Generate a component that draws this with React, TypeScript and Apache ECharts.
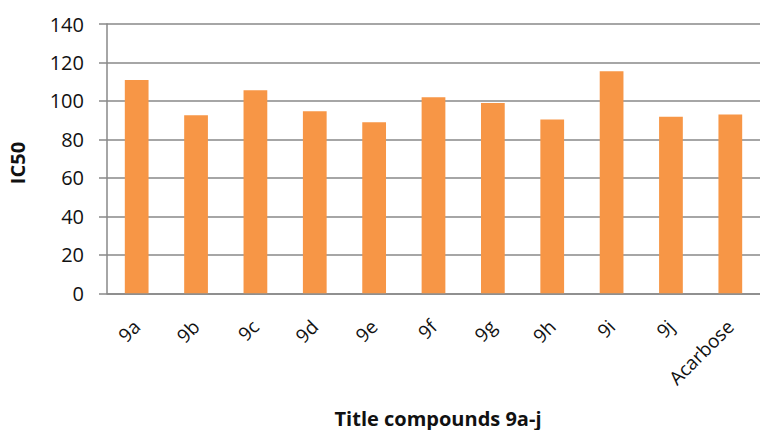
import React, { useEffect, useRef } from "react";
import * as echarts from "echarts";

const categories = ["9a", "9b", "9c", "9d", "9e", "9f", "9g", "9h", "9i", "9j", "Acarbose"];
const ic50Values = [110.9, 92.5, 105.5, 94.6, 88.9, 101.9, 98.9, 90.4, 115.5, 91.8, 93.0];
const yTicks = { min: 0, max: 140, interval: 20 };
const yAxisTitle = "IC50";
const xAxisTitle = "Title compounds 9a-j";

const FONT = "'Open Sans', 'Liberation Sans', sans-serif";
const GRID_GRAY = "#888888";
const BAR_ORANGE = "#f79646";
const TEXT = "#111111";

export default function App() {
  const ref = useRef<HTMLDivElement>(null);

  useEffect(() => {
    if (!ref.current) return;
    const chart = echarts.init(ref.current, null, { renderer: "svg" });
    chart.setOption({
      animation: false,
      backgroundColor: "#ffffff",
      grid: { left: 107, top: 24, right: -10.5, bottom: 136.7, containLabel: false },
      xAxis: {
        type: "category",
        data: categories,
        axisLine: { show: true, lineStyle: { color: GRID_GRAY, width: 1.5 } },
        axisTick: { show: false },
        axisLabel: {
          interval: 0,
          rotate: 45,
          margin: 30,
          fontFamily: FONT,
          fontSize: 19,
          color: TEXT,
        },
      },
      yAxis: {
        type: "value",
        min: yTicks.min,
        max: yTicks.max,
        interval: yTicks.interval,
        axisLine: { show: true, lineStyle: { color: GRID_GRAY, width: 1.5 } },
        axisTick: { show: true, length: 8, lineStyle: { color: GRID_GRAY, width: 1.5 } },
        splitLine: { show: true, lineStyle: { color: GRID_GRAY, width: 1.5 } },
        axisLabel: {
          margin: 23,
          fontFamily: FONT,
          fontSize: 20,
          color: TEXT,
        },
      },
      series: [
        {
          type: "bar",
          data: ic50Values,
          barWidth: "40%",
          itemStyle: { color: BAR_ORANGE },
        },
      ],
      graphic: [
        {
          type: "text",
          x: 17.5,
          y: 163,
          rotation: Math.PI / 2,
          style: {
            text: yAxisTitle,
            fontFamily: FONT,
            fontSize: 20,
            fontWeight: "bold",
            fill: TEXT,
            align: "center",
            verticalAlign: "middle",
          },
        },
        {
          type: "text",
          x: 438,
          y: 418,
          style: {
            text: xAxisTitle,
            fontFamily: FONT,
            fontSize: 20,
            fontWeight: "bold",
            fill: TEXT,
            align: "center",
            verticalAlign: "middle",
          },
        },
      ],
    });
    return () => chart.dispose();
  }, []);

  return (
    <div
      ref={ref}
      style={{ position: "fixed", left: 0, top: 0, width: 760, height: 430 }}
    />
  );
}
